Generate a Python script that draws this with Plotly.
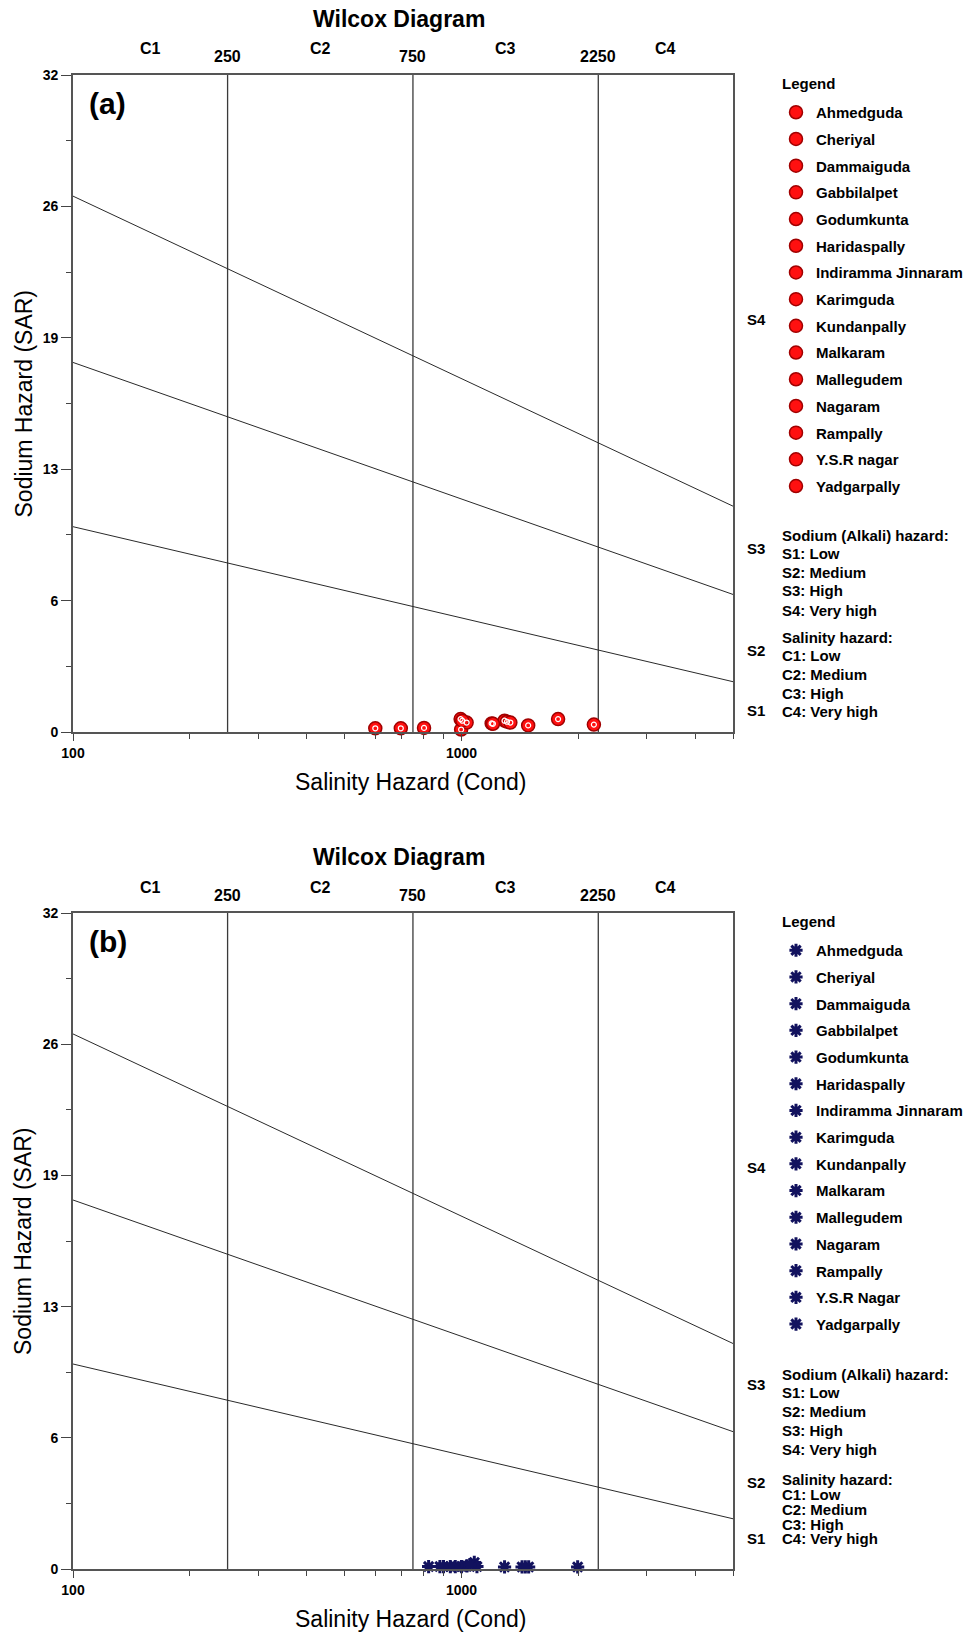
import math
import plotly.graph_objects as go

W, H = 963, 1635

# ---------------- data ----------------
sites_a = ["Ahmedguda", "Cheriyal", "Dammaiguda", "Gabbilalpet", "Godumkunta",
           "Haridaspally", "Indiramma Jinnaram", "Karimguda", "Kundanpally",
           "Malkaram", "Mallegudem", "Nagaram", "Rampally", "Y.S.R nagar", "Yadgarpally"]
sites_b = ["Ahmedguda", "Cheriyal", "Dammaiguda", "Gabbilalpet", "Godumkunta",
           "Haridaspally", "Indiramma Jinnaram", "Karimguda", "Kundanpally",
           "Malkaram", "Mallegudem", "Nagaram", "Rampally", "Y.S.R Nagar", "Yadgarpally"]

ec_a = [600, 698, 801, 995, 998, 1031, 1196, 1291, 1310, 1336, 1485, 1773, 2192, 1005, 1205]
sar_a = [0.18, 0.18, 0.2, 0.63, 0.12, 0.46, 0.42, 0.55, 0.5, 0.46, 0.32, 0.63, 0.36, 0.55, 0.4]

ec_b = [823, 880, 899, 936, 964, 1000, 1033, 1079, 1096, 1050, 1291, 1432, 1489, 1991, 1460]
sar_b = [0.12, 0.12, 0.12, 0.12, 0.12, 0.12, 0.15, 0.32, 0.12, 0.2, 0.1, 0.1, 0.1, 0.1, 0.1]

class_ec = [250, 750, 2250]
ec_line = [100, 5000]
s1s2 = [10.0, 2.45]
s2s3 = [18.0, 6.7]
s3s4 = [26.1, 11.0]

sar_ticks = [0, 6.4, 12.8, 19.2, 25.6, 32]
sar_ticktext = ["0", "6", "13", "19", "26", "32"]
ec_ticks = [100, 1000]
ec_minor = [200, 300, 400, 500, 600, 700, 800, 900, 2000, 3000, 4000, 5000]

c_labels = ["C1", "C2", "C3", "C4"]
c_bounds = [100, 250, 750, 2250, 5000]
s_labels = ["S1", "S2", "S3", "S4"]
s_label_y_a = [1.07, 3.99, 8.96, 20.07]
s_label_y_b = [1.5, 4.2, 9.0, 19.6]
hazard_text = ["Sodium (Alkali) hazard:", "S1: Low", "S2: Medium", "S3: High", "S4: Very high",
               "Salinity hazard:", "C1: Low", "C2: Medium", "C3: High", "C4: Very high"]
# pixel rows of the hazard text lines, counted from each panel's top edge
hazard_rows_a = [460, 478, 497, 515, 535, 562, 580, 599, 618, 636]
hazard_rows_b = [461, 479, 498, 517, 536, 566, 581, 596, 611, 625]

# ---------------- layout geometry ----------------
FONT = "Liberation Sans, Arial, sans-serif"
PL, PR = 73, 733
panels = [dict(top=75, bottom=732, tag="(a)", xa="x", ya="y", sites=sites_a, ec=ec_a, sar=sar_a,
               legend="legend", kind="a", sy=s_label_y_a, rows=hazard_rows_a),
          dict(top=913, bottom=1569, tag="(b)", xa="x2", ya="y2", sites=sites_b, ec=ec_b, sar=sar_b,
               legend="legend2", kind="b", sy=s_label_y_b, rows=hazard_rows_b)]

fig = go.Figure()
annotations = []
line_col = "#2a2a2a"


def bold(size):
    return dict(family=FONT, size=size, color="black", weight="bold")


for p in panels:
    xa, ya = p["xa"], p["ya"]
    for v in class_ec:
        fig.add_trace(go.Scatter(x=[v, v], y=[0, 32], mode="lines", xaxis=xa, yaxis=ya,
                                 line=dict(color="#3a3a3a", width=1.3), showlegend=False, hoverinfo="skip"))
    for ln in (s1s2, s2s3, s3s4):
        fig.add_trace(go.Scatter(x=ec_line, y=ln, mode="lines", xaxis=xa, yaxis=ya,
                                 line=dict(color=line_col, width=1), showlegend=False, hoverinfo="skip"))
    for i, name in enumerate(p["sites"]):
        if p["kind"] == "a":
            mk = dict(symbol="circle", size=13, color="#ff1010", line=dict(color="#a00000", width=1.5))
        else:
            mk = dict(symbol="asterisk-open", size=11, color="#12125e", line=dict(color="#12125e", width=3))
        fig.add_trace(go.Scatter(x=[p["ec"][i]], y=[p["sar"][i]], mode="markers", name=name,
                                 xaxis=xa, yaxis=ya, marker=mk, cliponaxis=False,
                                 legend=p["legend"], legendgroup=p["kind"] + str(i)))
    if p["kind"] == "a":
        fig.add_trace(go.Scatter(x=p["ec"], y=p["sar"], mode="markers", xaxis=xa, yaxis=ya,
                                 marker=dict(symbol="circle-open", size=5, color="white",
                                             line=dict(color="white", width=1.2)),
                                 cliponaxis=False, showlegend=False, hoverinfo="skip"))

    top, bot = p["top"], p["bottom"]
    hgt = bot - top
    annotations.append(dict(text="Wilcox Diagram", xref="paper", yref="paper",
                            x=399 / W, y=1 - (top - 56) / H, showarrow=False, font=bold(23),
                            xanchor="center", yanchor="middle"))
    for k, lab in enumerate(c_labels):
        xm = (math.log10(c_bounds[k]) + math.log10(c_bounds[k + 1])) / 2
        annotations.append(dict(text=lab, xref=xa, yref=ya + " domain", x=xm, y=1,
                                yshift=26, showarrow=False, font=bold(16),
                                xanchor="center", yanchor="middle"))
    for v in class_ec:
        annotations.append(dict(text=str(v), xref=xa, yref=ya + " domain", x=math.log10(v), y=1,
                                yshift=18, showarrow=False, font=bold(16),
                                xanchor="center", yanchor="middle"))
    annotations.append(dict(text=p["tag"], xref=xa + " domain", yref=ya + " domain",
                            x=(87 - PL) / (PR - PL), y=1 - (104 - 75) / 657, showarrow=False,
                            font=bold(30), xanchor="left", yanchor="middle"))
    for lab, yv in zip(s_labels, p["sy"]):
        annotations.append(dict(text=lab, xref=xa + " domain", yref=ya, x=(745 - PL) / (PR - PL),
                                y=yv, showarrow=False, font=bold(15),
                                xanchor="left", yanchor="middle"))
    for t, r in zip(hazard_text, p["rows"]):
        annotations.append(dict(text=t, xref=xa + " domain", yref=ya + " domain",
                                x=(780 - PL) / (PR - PL), y=1 - r / hgt, showarrow=False,
                                font=bold(15), xanchor="left", yanchor="middle"))
    annotations.append(dict(text="Legend", xref="paper", yref="paper", x=780 / W,
                            y=1 - (top + 8) / H, showarrow=False, font=bold(15),
                            xanchor="left", yanchor="middle"))
    annotations.append(dict(text="Salinity Hazard (Cond)", xref="paper", yref="paper", x=410 / W,
                            y=1 - (bot + 50) / H, showarrow=False,
                            font=dict(family=FONT, size=23, color="black"),
                            xanchor="center", yanchor="middle"))
    annotations.append(dict(text="Sodium Hazard (SAR)", xref="paper", yref="paper", x=23 / W,
                            y=1 - (top + hgt / 2) / H, showarrow=False, textangle=-90,
                            font=dict(family=FONT, size=23, color="black"),
                            xanchor="center", yanchor="middle"))

xaxis_common = dict(type="log", range=[2, math.log10(5000)], domain=[PL / W, PR / W],
                    tickmode="array", tickvals=ec_ticks, ticktext=["100", "1000"],
                    ticks="outside", ticklen=7, tickwidth=1.3, tickcolor="#444",
                    minor=dict(tickmode="array", tickvals=ec_minor, ticks="outside", ticklen=5,
                               tickwidth=1.3, tickcolor="#444"),
                    showline=True, linecolor="#555", linewidth=1.6, mirror=True,
                    showgrid=False, zeroline=False, tickfont=bold(14))
yaxis_common = dict(range=[0, 32], tickmode="array", tickvals=sar_ticks, ticktext=sar_ticktext,
                    ticks="outside", ticklen=10, tickwidth=1.3, tickcolor="#444",
                    minor=dict(tickmode="linear", tick0=0, dtick=3.2, ticks="outside", ticklen=5,
                               tickwidth=1.3, tickcolor="#444"),
                    showline=True, linecolor="#555", linewidth=1.6, mirror=True,
                    showgrid=False, zeroline=False, tickfont=bold(14))

legend_common = dict(xanchor="left", yanchor="top", bgcolor="rgba(0,0,0,0)",
                     font=bold(15), tracegroupgap=4.2, traceorder="grouped", itemsizing="trace")

fig.update_layout(
    width=W, height=H, autosize=False,
    margin=dict(l=0, r=0, t=0, b=0, autoexpand=False),
    paper_bgcolor="white", plot_bgcolor="white",
    xaxis=dict(**xaxis_common, anchor="y"),
    yaxis=dict(**yaxis_common, domain=[1 - 732 / H, 1 - 75 / H], anchor="x"),
    xaxis2=dict(**xaxis_common, anchor="y2"),
    yaxis2=dict(**yaxis_common, domain=[1 - 1569 / H, 1 - 913 / H], anchor="x2"),
    legend=dict(**legend_common, x=776 / W, y=1 - 96 / H),
    legend2=dict(**legend_common, x=776 / W, y=1 - 934 / H),
    annotations=annotations,
    showlegend=True,
)

fig.write_html("out.html")
